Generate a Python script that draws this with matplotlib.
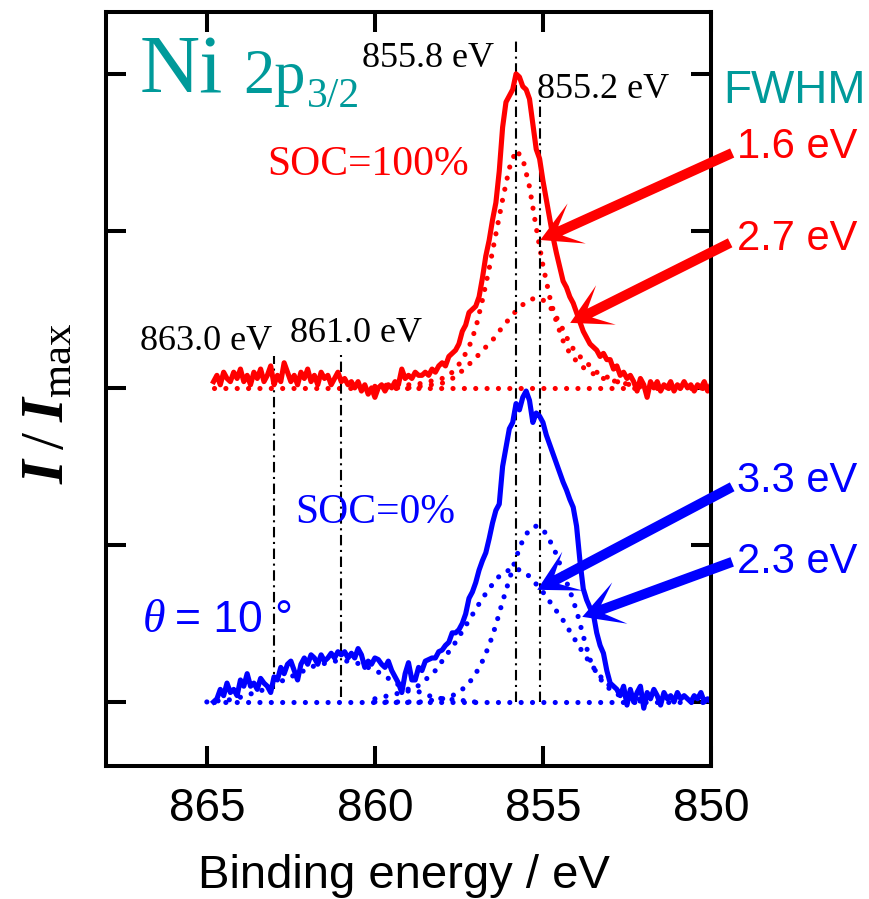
import numpy as np
import matplotlib
matplotlib.use("Agg")
import matplotlib.pyplot as plt
from matplotlib.patches import Polygon
from matplotlib.transforms import IdentityTransform

# energy grids (eV)
E_raw = np.round(np.arange(864.8, 849.95, -0.1), 1)   # measured spectra
E_fit = np.round(np.arange(860.0, 851.9, -0.2), 1)    # fitted components
E_sat = np.round(np.arange(865.0, 856.9, -0.2), 1)    # satellite component
E_base = [864.8, 850.0]

# SOC = 100 % spectrum (offset +1)
red_raw = [1.02, 1.04, 1.01, 1.05, 1.03, 1.02, 1.05, 1.03, 1.06, 1.02,
           1.04, 1.01, 1.05, 1.03, 1.06, 1.02, 1.04, 1.07, 1.01, 1.04,
           1.02, 1.08, 1.05, 1.02, 1.04, 1.01, 1.05, 1.03, 1.06, 1.02,
           1.04, 1.01, 1.05, 1.03, 1.04, 1.01, 1.03, 1.05, 1.02, 1.03,
           1.01, 1.02, 1.00, 1.02, 0.99, 1.01, 0.98, 1.00, 0.97, 1.00,
           1.01, 0.99, 1.01, 1.00, 1.02, 1.01, 1.06, 1.03, 1.04, 1.03,
           1.05, 1.04, 1.04, 1.05, 1.04, 1.06, 1.05, 1.07, 1.08, 1.07,
           1.10, 1.11, 1.12, 1.14, 1.18, 1.20, 1.24, 1.25, 1.26, 1.29,
           1.35, 1.42, 1.47, 1.535, 1.59, 1.69, 1.83, 1.91, 1.93, 1.95,
           2.00, 1.99, 1.96, 1.95, 1.92, 1.84, 1.76, 1.73, 1.66, 1.60,
           1.54, 1.48, 1.43, 1.385, 1.34, 1.32, 1.29, 1.27, 1.24, 1.21,
           1.18, 1.16, 1.14, 1.13, 1.12, 1.10, 1.11, 1.09, 1.09, 1.06,
           1.07, 1.04, 1.05, 1.03, 1.04, 1.02, 0.99, 1.03, 1.01, 0.97,
           1.02, 1.00, 1.02, 0.99, 1.01, 1.00, 1.02, 0.99, 1.01, 1.00,
           1.02, 1.00, 1.01, 0.99, 1.01, 1.00, 1.02, 0.99, 1.01]
red_narrow = [1.005, 1.005, 1.01, 1.01, 1.01, 1.01, 1.01, 1.015, 1.02, 1.025,
              1.03, 1.04, 1.06, 1.09, 1.13, 1.19, 1.28, 1.38, 1.49, 1.60,
              1.70, 1.757, 1.73, 1.64, 1.51, 1.39, 1.29, 1.21, 1.15, 1.11,
              1.085, 1.065, 1.05, 1.04, 1.03, 1.025, 1.02, 1.015, 1.01, 1.01,
              1.005]
red_broad = [1.0, 1.0, 1.0, 1.0, 1.0, 1.0, 1.005, 1.005, 1.01, 1.01,
             1.015, 1.025, 1.035, 1.055, 1.075, 1.095, 1.12, 1.14, 1.165, 1.195,
             1.22, 1.245, 1.265, 1.28, 1.287, 1.28, 1.26, 1.225, 1.185, 1.14,
             1.11, 1.09, 1.07, 1.05, 1.04, 1.03, 1.02, 1.015, 1.01, 1.005,
             1.0]
red_base = [1.0, 1.0]

# SOC = 0 % spectrum
blue_raw = [0.00, 0.01, 0.04, 0.02, 0.06, 0.03, 0.04, 0.02, 0.07, 0.05,
            0.09, 0.05, 0.06, 0.04, 0.075, 0.06, 0.05, 0.03, 0.08, 0.07,
            0.11, 0.09, 0.12, 0.13, 0.10, 0.07, 0.12, 0.14, 0.12, 0.15,
            0.14, 0.12, 0.15, 0.13, 0.14, 0.155, 0.14, 0.16, 0.15, 0.16,
            0.14, 0.155, 0.14, 0.17, 0.15, 0.11, 0.13, 0.12, 0.14, 0.135,
            0.12, 0.11, 0.13, 0.10, 0.08, 0.06, 0.03, 0.09, 0.125, 0.07,
            0.07, 0.11, 0.10, 0.13, 0.135, 0.14, 0.14, 0.16, 0.165, 0.18,
            0.19, 0.22, 0.22, 0.23, 0.25, 0.28, 0.33, 0.35, 0.38, 0.42,
            0.45, 0.475, 0.52, 0.57, 0.61, 0.63, 0.75, 0.81, 0.87, 0.89,
            0.95, 0.93, 0.97, 0.99, 0.96, 0.89, 0.92, 0.91, 0.89, 0.85,
            0.82, 0.79, 0.76, 0.73, 0.70, 0.675, 0.645, 0.62, 0.56, 0.45,
            0.36, 0.325, 0.30, 0.28, 0.22, 0.18, 0.155, 0.10, 0.06, 0.05,
            0.04, 0.02, 0.05, -0.01, 0.04, 0.00, 0.03, 0.05, -0.02, 0.03,
            0.01, 0.04, 0.02, -0.01, 0.03, 0.01, 0.02, 0.00, 0.03, 0.01,
            0.02, 0.01, 0.00, 0.02, 0.01, 0.03, 0.00, 0.01, 0.00]
blue_a = [0, 0, 0, 0, 0, 0, 0, 0, 0.005, 0.005,
          0.01, 0.015, 0.025, 0.04, 0.06, 0.09, 0.13, 0.18, 0.245, 0.32,
          0.39, 0.46, 0.515, 0.55, 0.56, 0.55, 0.515, 0.47, 0.41, 0.355,
          0.29, 0.21, 0.135, 0.09, 0.06, 0.04, 0.025, 0.015, 0.01, 0.005,
          0.0]
blue_b = [0.01, 0.015, 0.02, 0.025, 0.03, 0.035, 0.045, 0.06, 0.08, 0.10,
          0.13, 0.16, 0.19, 0.225, 0.26, 0.295, 0.33, 0.36, 0.39, 0.41,
          0.42, 0.425, 0.415, 0.40, 0.375, 0.35, 0.32, 0.29, 0.26, 0.225,
          0.19, 0.155, 0.125, 0.095, 0.07, 0.05, 0.035, 0.025, 0.015, 0.01,
          0.005]
blue_sat = [0.0, 0.0, 0.005, 0.005, 0.01, 0.015, 0.02, 0.03, 0.035, 0.045,
            0.055, 0.065, 0.075, 0.085, 0.095, 0.105, 0.115, 0.12, 0.125, 0.13,
            0.13, 0.13, 0.125, 0.12, 0.11, 0.10, 0.09, 0.075, 0.06, 0.05,
            0.04, 0.035, 0.03, 0.02, 0.015, 0.01, 0.01, 0.005, 0.005, 0.0,
            0.0]
blue_base = [0.0, 0.0]

# marker lines: energy, bottom, top
vl_E = [855.8, 855.1, 863.0, 861.0]
vl_bot = [0.0, 0.0, 0.04, 0.015]
vl_top = [2.11, 1.92, 1.10, 1.105]

RED = "#ff0000"
BLUE = "#0000ff"
TEAL = "#009a9a"
SERIF = "Liberation Serif"
SANS = "Liberation Sans"

plt.rcParams["font.family"] = SANS
plt.rcParams["mathtext.fontset"] = "custom"
plt.rcParams["mathtext.it"] = "Liberation Serif:italic:bold"
plt.rcParams["mathtext.rm"] = "Liberation Serif"

fig = plt.figure(figsize=(8.7, 8.99), dpi=100)
ax = fig.add_axes([106 / 870, 1 - 766 / 899, 605 / 870, 754 / 899])
ax.set_xlim(868, 850)
ax.set_ylim(-0.204, 2.197)

dots = dict(linestyle=(0, (0.01, 2.2)), dash_capstyle="round", lw=3.7)
for E, y in [(E_base, red_base), (E_fit, red_narrow), (E_fit, red_broad)]:
    ax.plot(E, y, color=RED, **dots)
for E, y in [(E_base, blue_base), (E_fit, blue_a), (E_fit, blue_b), (E_sat, blue_sat)]:
    ax.plot(E, y, color=BLUE, **dots)

for e, b, t in zip(vl_E, vl_bot, vl_top):
    ax.plot([e, e], [b, t], color="black", lw=1.5, linestyle=(0, (5, 2.2, 1, 2.2)))

ax.plot(E_raw, red_raw, color=RED, lw=3.7, solid_joinstyle="round")
ax.plot(E_raw, blue_raw, color=BLUE, lw=3.7, solid_joinstyle="round")

ax.set_xticks([865, 860, 855, 850])
ax.set_yticks([0, 0.5, 1.0, 1.5, 2.0])
ax.tick_params(direction="in", length=14.4, width=2.9, top=True, right=True,
               labelsize=33, pad=15)
ax.tick_params(axis="y", labelleft=False)
for s in ax.spines.values():
    s.set_linewidth(2.9)

# labels
fig.text(404 / 870, 1 - 888 / 899, "Binding energy / eV", ha="center",
         va="baseline", fontsize=34)
fig.text(47 / 870, 1 - 403 / 899, r"$I\:/\:I_{\mathrm{max}}$", rotation=90,
         ha="center", va="center", fontsize=44)

ax.text(866.99, 1.94, "Ni", color=TEAL, family=SERIF, fontsize=60, va="baseline")
ax.text(863.92, 1.94, "2p", color=TEAL, family=SERIF, fontsize=45, va="baseline")
ax.text(862.02, 1.895, "3/2", color=TEAL, family=SERIF, fontsize=30, va="baseline")

peak_labels = [(860.38, 2.022, "855.8 eV"), (855.17, 1.924, "855.2 eV"),
               (866.99, 1.121, "863.0 eV"), (862.52, 1.146, "861.0 eV")]
for x, y, s in peak_labels:
    ax.text(x, y, s, family=SERIF, fontsize=26, va="baseline")

ax.text(863.21, 1.678, "SOC=100%", color=RED, family=SERIF, fontsize=30, va="baseline")
ax.text(862.375, 0.570, "SOC=0%", color=BLUE, family=SERIF, fontsize=30, va="baseline")
ax.text(866.9, 0.223, "θ", color=BLUE, family=SERIF, style="italic", fontsize=33,
        va="baseline")
ax.text(865.95, 0.223, "= 10 °", color=BLUE, fontsize=32, va="baseline")

ax.text(849.64, 1.908, "FWHM", color=TEAL, fontsize=33, va="baseline")
fwhm_labels = [(1.732, "1.6 eV", RED), (1.44, "2.7 eV", RED),
               (0.669, "3.3 eV", BLUE), (0.411, "2.3 eV", BLUE)]
for y, s, c in fwhm_labels:
    ax.text(849.22, y, s, color=c, fontsize=30, va="baseline")


def fat_arrow(tail, tip, color, shaft=10.0, head_len=40.0, head_half=22.0, notch=22.0):
    p0 = ax.transData.transform(tail)
    p1 = ax.transData.transform(tip)
    d = p1 - p0
    u = d / np.hypot(*d)
    n = np.array([-u[1], u[0]])
    back = p1 - u * head_len
    nb = p1 - u * notch
    pts = [p0 + n * shaft / 2, nb + n * shaft / 2, back + n * head_half, p1,
           back - n * head_half, nb - n * shaft / 2, p0 - n * shaft / 2]
    fig.add_artist(Polygon(pts, closed=True, facecolor=color, edgecolor="none",
                           transform=IdentityTransform(), zorder=5))


arrows = [((849.37, 1.748), (855.08, 1.471), RED),
          ((849.43, 1.462), (854.19, 1.207), RED),
          ((849.37, 0.685), (855.17, 0.357), BLUE),
          ((849.37, 0.446), (853.83, 0.271), BLUE)]
for tail, tip, c in arrows:
    fat_arrow(tail, tip, c)

fig.savefig("out.png", dpi=100)
